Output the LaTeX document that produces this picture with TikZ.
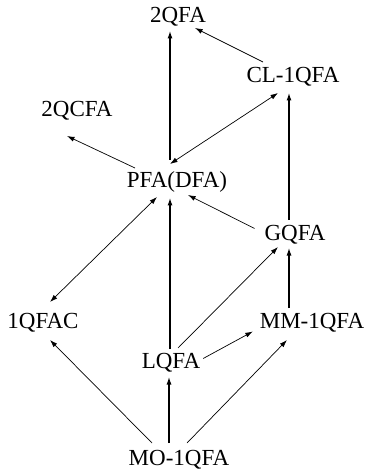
\documentclass[tikz,border=0pt]{standalone}
\usepackage{fontspec}
\setmainfont{Liberation Serif}
\usetikzlibrary{arrows.meta}
\begin{document}
\begin{tikzpicture}[x=1bp,y=-1bp,
  lbl/.style={inner sep=0pt,outer sep=0pt,text height=13bp,text depth=0pt,anchor=south,
    font=\fontsize{23bp}{25bp}\selectfont},
  arr/.style={line width=0.7bp,-{Latex[length=7.5bp,width=5bp]}},
  darr/.style={line width=0.7bp,{Latex[length=7.5bp,width=5bp]}-{Latex[length=7.5bp,width=5bp]}},
  varr/.style={line width=1.1bp,-{Latex[length=7.5bp,width=5bp]}}]
\useasboundingbox (0,0) rectangle (370,473);
\node[lbl] (q2)  at (178,23)  {2QFA};
\node[lbl] (cl)  at (293,83)  {CL-1QFA};
\node[lbl] (qc)  at (77,117)  {2QCFA};
\node[lbl] (pfa) at (177,188) {PFA(DFA)};
\node[lbl] (gq)  at (295,240) {GQFA};
\node[lbl] (fac) at (43,328)  {1QFAC};
\node[lbl] (mm)  at (312,328) {MM-1QFA};
\node[lbl] (lq)  at (171,368) {LQFA};
\node[lbl] (mo)  at (179,465) {MO-1QFA};
% top part
\draw[varr] ([shift={(-7,-15)}]pfa.north) -- ([shift={(-8,8)}]q2.south);
\draw[arr]  ([shift={(-30,-8)}]cl.north) -- ([shift={(17,5)}]q2.south);
\draw[darr] ([shift={(-7,-11)}]pfa.north) -- ([shift={(-15,10)}]cl.south);
\draw[arr]  ([shift={(-42,-7)}]pfa.north) -- ([shift={(-10,19)}]qc.south);
\draw[varr] ([shift={(-6,-7)}]gq.north) -- ([shift={(-4,10)}]cl.south);
\draw[arr]  ([shift={(-10,-5)}]gq.west) -- ([shift={(11,7)}]pfa.south);
% middle part
\draw[darr] ([shift={(-20,9)}]pfa.south) -- ([shift={(7,-13)}]fac.north);
\draw[varr] ([shift={(-1,-6)}]lq.north) -- ([shift={(-7,10)}]pfa.south);
\draw[arr]  ([shift={(7,-7)}]lq.north) -- ([shift={(-17,7)}]gq.south);
\draw[arr]  ([shift={(3,-3)}]lq.east) -- ([shift={(-7,10)}]mm.west);
\draw[varr] ([shift={(-23,-7)}]mm.north) -- ([shift={(-6,8)}]gq.south);
% bottom part
\draw[arr]  ([shift={(-27,-9)}]mo.north) -- ([shift={(7,12)}]fac.south);
\draw[varr] ([shift={(-10,-9)}]mo.north) -- ([shift={(-2,9)}]lq.south);
\draw[arr]  ([shift={(8,-9)}]mo.north) -- ([shift={(-25,12)}]mm.south);
\end{tikzpicture}
\end{document}
